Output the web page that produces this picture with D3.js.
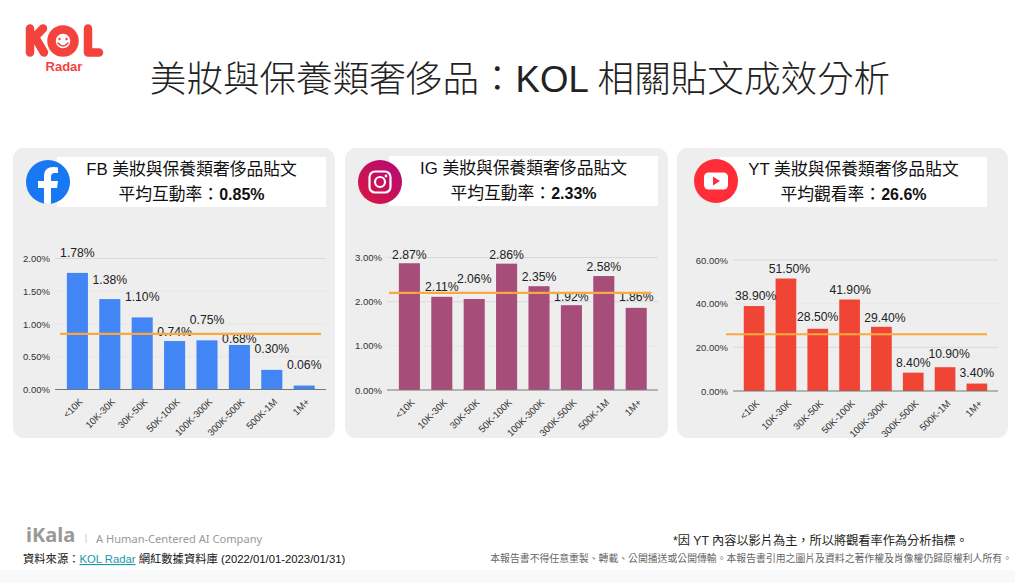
<!DOCTYPE html>
<html>
<head>
<meta charset="utf-8">
<script src="https://cdn.jsdelivr.net/npm/d3@7"></script>
<style>
    html, body { margin: 0; padding: 0; background: #fff; overflow: hidden; }
    text { font-family: "Liberation Sans", "Noto Sans CJK TC", sans-serif; }
</style>
</head>
<body>
<svg id="chart" width="1015" height="583"></svg>
<script>
const categories = ["<10K", "10K-30K", "30K-50K", "50K-100K", "100K-300K", "300K-500K", "500K-1M", "1M+"]

const fbValues = [1.78, 1.38, 1.10, 0.74, 0.75, 0.68, 0.30, 0.06]
const igValues = [2.87, 2.11, 2.06, 2.86, 2.35, 1.92, 2.58, 1.86]
const ytValues = [38.90, 51.50, 28.50, 41.90, 29.40, 8.40, 10.90, 3.40]

const fbTicks = [0, 0.5, 1, 1.5, 2]
const igTicks = [0, 1, 2, 3]
const ytTicks = [0, 20, 40, 60]

// where the orange line sits in the picture
const fbAverage = 0.85
const igAverage = 2.2
const ytAverage = 26

// full-width punctuation, kept as escapes so it stays full width
const colon = "\uFF1A"
const comma = "\uFF0C"

const title = "美妝與保養類奢侈品" + colon + "KOL 相關貼文成效分析"
const fbHead = ["FB 美妝與保養類奢侈品貼文", "平均互動率" + colon, "0.85%"]
const igHead = ["IG 美妝與保養類奢侈品貼文", "平均互動率" + colon, "2.33%"]
const ytHead = ["YT 美妝與保養類奢侈品貼文", "平均觀看率" + colon, "26.6%"]

const svg = d3.select("#chart")

const panels = [
    {
        values: fbValues, ticks: fbTicks, average: fbAverage, head: fbHead, color: "#4285f4",
        box: [13, 148, 322, 290], white: [57, 157, 269, 50], icon: [48, 182],
        x: [61.2, 320.4], y: [389.5, 258.5], max: 2, grid: [55, 326], line: [60, 321],
        labelGap: [20, 20, 21, 9.5, 21, 6.5, 21, 20.5], labelShift: [0, 0, 0, 0, 0, 0, 0, 0], faint: [0.5, 1, 1.5]
    },
    {
        values: igValues, ticks: igTicks, average: igAverage, head: igHead, color: "#a64d79",
        box: [345, 148, 323, 290], white: [389, 156, 269, 50], icon: [380, 182],
        x: [393.2, 652.4], y: [390, 257.5], max: 3, grid: [387, 658], line: [389, 651],
        labelGap: [9, 10, 20, 9.5, 9.5, 9, 9, 11], labelShift: [0, 0, 0, 0, 0, 0, 0, 0], faint: [1]
    },
    {
        values: ytValues, ticks: ytTicks, average: ytAverage, head: ytHead, color: "#f04535",
        box: [677, 148, 331, 290], white: [720, 157, 267, 50], icon: [716, 181],
        x: [738.2, 992.8], y: [391, 260], max: 60, grid: [733, 998], line: [726, 987],
        labelGap: [10, 10, 12, 10, 9.5, 10, 14, 11], labelShift: [1.5, 3.5, 0, 0.5, 3.5, 0, 4, 0], faint: [40]
    }
]

drawHeader()
panels.forEach(drawPanel)
drawIcons()
drawFooter()

function drawHeader() {
    // KOL Radar logo, built from round strokes
    const logo = svg.append("g")
        .attr("fill", "none")
        .attr("stroke", "#f4433c")
        .attr("stroke-width", 8.5)
        .attr("stroke-linecap", "round")
        .attr("stroke-linejoin", "round")
    logo.append("path").attr("d", "M30 28.5V52.5M30 42L43 28.5M35.5 38L44 52.5")
    logo.append("circle").attr("cx", 63).attr("cy", 41).attr("r", 11.5)
    logo.append("path").attr("d", "M88 28.5V52.5H99")
    logo.append("circle").attr("cx", 59.5).attr("cy", 39).attr("r", 1.2).attr("fill", "#f4433c").attr("stroke", "none")
    logo.append("circle").attr("cx", 66.5).attr("cy", 39).attr("r", 1.2).attr("fill", "#f4433c").attr("stroke", "none")
    logo.append("path").attr("d", "M58 43Q63 49 68 43").attr("stroke-width", 1.6)

    svg.append("text")
        .attr("x", 64).attr("y", 70.5)
        .attr("text-anchor", "middle")
        .attr("font-size", 13).attr("font-weight", "bold")
        .attr("fill", "#f4433c")
        .text("Radar")

    svg.append("text")
        .attr("x", 520).attr("y", 92)
        .attr("text-anchor", "middle")
        .attr("font-size", 36.6).attr("font-weight", 300)
        .attr("fill", "#222")
        .text(title)
}

function drawPanel(p) {
    const g = svg.append("g")

    g.append("rect")
        .attr("x", p.box[0]).attr("y", p.box[1])
        .attr("width", p.box[2]).attr("height", p.box[3])
        .attr("rx", 11)
        .attr("fill", "#eeeeee")

    g.append("rect")
        .attr("x", p.white[0]).attr("y", p.white[1])
        .attr("width", p.white[2]).attr("height", p.white[3])
        .attr("fill", "#fff")

    const cx = p.white[0] + p.white[2] / 2
    g.append("text")
        .attr("x", cx).attr("y", p.white[1] + 18)
        .attr("text-anchor", "middle")
        .attr("font-size", 16.8).attr("fill", "#111")
        .text(p.head[0])

    const second = g.append("text")
        .attr("x", cx).attr("y", p.white[1] + 43)
        .attr("text-anchor", "middle")
        .attr("font-size", 16.8).attr("fill", "#111")
    second.append("tspan").text(p.head[1])
    second.append("tspan").attr("font-weight", "bold").attr("font-size", 16).text(p.head[2])

    const scaleX = d3.scaleBand()
        .domain(categories)
        .range(p.x)
        .paddingInner(0.35)
        .paddingOuter(0.175)

    const scaleY = d3.scaleLinear()
        .domain([0, p.max])
        .range(p.y)

    // gridlines
    g.append("g")
        .selectAll("line")
        .data(p.ticks.filter((d) => d !== 0))
        .enter()
        .append("line")
        .attr("x1", p.grid[0]).attr("x2", p.grid[1])
        .attr("y1", (d) => scaleY(d)).attr("y2", (d) => scaleY(d))
        .attr("stroke", (d) => p.faint.includes(d) ? "#e6e6e6" : "#d9d9d9")

    g.append("g")
        .selectAll("rect")
        .data(p.values)
        .enter()
        .append("rect")
        .attr("x", (d, i) => scaleX(categories[i]))
        .attr("y", (d) => scaleY(d))
        .attr("width", scaleX.bandwidth())
        .attr("height", (d) => scaleY(0) - scaleY(d))
        .attr("fill", p.color)

    // baseline
    g.append("line")
        .attr("x1", p.grid[0]).attr("x2", p.grid[1])
        .attr("y1", scaleY(0)).attr("y2", scaleY(0))
        .attr("stroke", "#777").attr("stroke-width", 1)

    const yAxis = d3.axisLeft(scaleY)
        .tickValues(p.ticks)
        .tickFormat((d) => d.toFixed(2) + "%")
        .tickSize(0)
        .tickPadding(5)
    const yG = g.append("g")
        .attr("transform", "translate(" + p.grid[0] + ",0)")
        .call(yAxis)
    yG.select(".domain").remove()
    yG.selectAll("text").attr("font-size", 9.5).attr("fill", "#333")

    const xAxis = d3.axisBottom(scaleX).tickSize(0).tickPadding(0)
    const xG = g.append("g")
        .attr("transform", "translate(0," + scaleY(0) + ")")
        .call(xAxis)
    xG.select(".domain").remove()
    xG.selectAll("text")
        .attr("font-size", 9.6).attr("fill", "#333")
        .attr("text-anchor", "end")
        .attr("dy", null)
        .attr("y", 0)
        .attr("transform", "translate(6,13) rotate(-45)")

    g.append("g")
        .selectAll("text")
        .data(p.values)
        .enter()
        .append("text")
        .attr("x", (d, i) => scaleX(categories[i]) + scaleX.bandwidth() / 2 + p.labelShift[i])
        .attr("y", (d, i) => scaleY(d) - p.labelGap[i])
        .attr("dy", "0.36em")
        .attr("text-anchor", "middle")
        .attr("font-size", 12.2)
        .attr("fill", "#222")
        .text((d) => d.toFixed(2) + "%")

    // average line is drawn over the labels
    g.append("line")
        .attr("x1", p.line[0]).attr("x2", p.line[1])
        .attr("y1", scaleY(p.average)).attr("y2", scaleY(p.average))
        .attr("stroke", "#f9a940").attr("stroke-width", 2.2)
}

function drawIcons() {
    const defs = svg.append("defs")
    const ig = defs.append("linearGradient").attr("id", "igFill").attr("x1", 0).attr("y1", 1).attr("x2", 1).attr("y2", 0)
    ig.append("stop").attr("offset", 0).attr("stop-color", "#d9173f")
    ig.append("stop").attr("offset", 1).attr("stop-color", "#b10a78")

    defs.append("clipPath").attr("id", "fbClip")
        .append("circle").attr("cx", panels[0].icon[0]).attr("cy", panels[0].icon[1]).attr("r", 22)

    // facebook
    const fb = svg.append("g").attr("transform", "translate(" + panels[0].icon + ")")
    fb.append("circle").attr("r", 22).attr("fill", "#1877f2")
    svg.append("g")
        .attr("clip-path", "url(#fbClip)")
        .append("path")
        .attr("transform", "translate(" + panels[0].icon + ")")
        .attr("fill", "#fff")
        .attr("d", "M-4 24V6H-10V-1H-4V-6C-4 -12 0 -15 5 -15C7 -15 9 -14.7 10 -14.5V-9H7C4 -9 3 -7.5 3 -5V-1H10L9 6H3V24Z")

    // instagram
    const ins = svg.append("g").attr("transform", "translate(" + panels[1].icon + ")")
    ins.append("circle").attr("r", 22).attr("fill", "url(#igFill)")
    ins.append("rect").attr("x", -10.5).attr("y", -10.5).attr("width", 21).attr("height", 21).attr("rx", 5.5)
        .attr("fill", "none").attr("stroke", "#fff").attr("stroke-width", 2.2)
    ins.append("circle").attr("r", 5).attr("fill", "none").attr("stroke", "#fff").attr("stroke-width", 2.2)
    ins.append("circle").attr("cx", 6).attr("cy", -6).attr("r", 1.4).attr("fill", "#fff")

    // youtube
    const yt = svg.append("g").attr("transform", "translate(" + panels[2].icon + ")")
    yt.append("circle").attr("r", 22).attr("fill", "#ff2d38")
    yt.append("rect").attr("x", -12).attr("y", -8.5).attr("width", 24).attr("height", 17).attr("rx", 4.5).attr("fill", "#fff")
    yt.append("path").attr("d", "M-3 -4.5L4 0L-3 4.5Z").attr("fill", "#ff2d38")
}

function drawFooter() {
    svg.append("rect")
        .attr("x", 0).attr("y", 570)
        .attr("width", 1015).attr("height", 13)
        .attr("fill", "#f8f9fb")

    svg.append("text")
        .attr("x", 26).attr("y", 542)
        .attr("font-size", 20).attr("font-weight", "bold")
        .attr("fill", "#999")
        .style("font-family", "'Noto Sans'")
        .text("iKala")

    svg.append("line")
        .attr("x1", 86).attr("x2", 86)
        .attr("y1", 534).attr("y2", 543)
        .attr("stroke", "#ccc")

    svg.append("text")
        .attr("x", 96).attr("y", 543)
        .attr("font-size", 11.1)
        .attr("fill", "#999")
        .style("font-family", "'Noto Sans'")
        .text("A Human-Centered AI Company")

    const source = svg.append("text")
        .attr("x", 23).attr("y", 563)
        .attr("font-size", 11.3)
        .attr("fill", "#111")
    source.append("tspan").text("資料來源" + colon)
    source.append("tspan").attr("fill", "#1a9aa8").attr("text-decoration", "underline").text("KOL Radar")
    source.append("tspan").text(" 網紅數據資料庫 (2022/01/01-2023/01/31)")

    svg.append("text")
        .attr("x", 968).attr("y", 545)
        .attr("text-anchor", "end")
        .attr("font-size", 12.2)
        .attr("fill", "#222")
        .text("*因 YT 內容以影片為主" + comma + "所以將觀看率作為分析指標。")

    svg.append("text")
        .attr("x", 1012).attr("y", 562)
        .attr("text-anchor", "end")
        .attr("font-size", 9.85)
        .attr("fill", "#666")
        .text("本報告書不得任意重製、轉載、公開播送或公開傳輸。本報告書引用之圖片及資料之著作權及肖像權仍歸原權利人所有。")
}
</script>
</body>
</html>
